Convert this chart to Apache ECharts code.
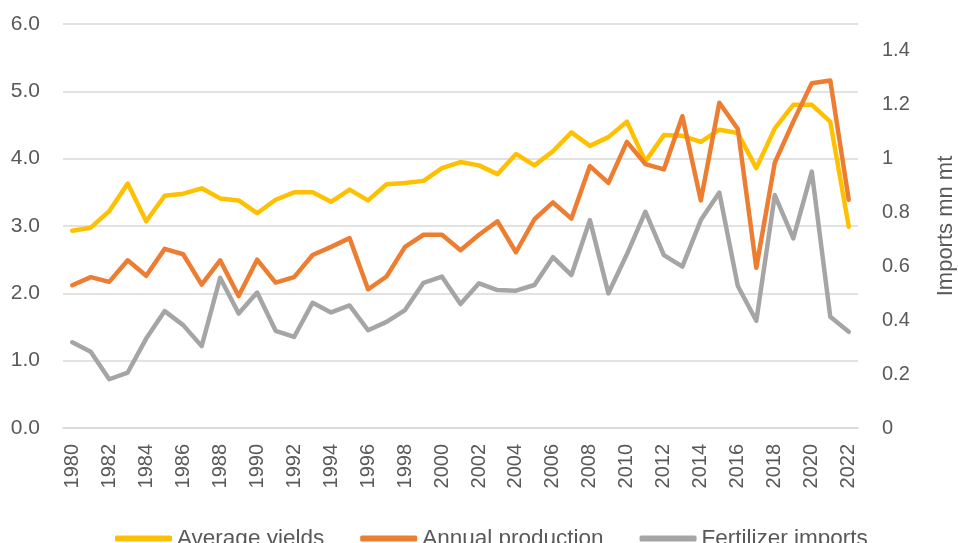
<!DOCTYPE html>
<html style="height: 100%">
<head>
<meta charset="utf-8">
<script src="https://cdn.jsdelivr.net/npm/echarts@6/dist/echarts.min.js"></script>
</head>
<body style="height: 100%; margin: 0; background: #fff">
<div id="container" style="width: 958px; height: 543px"></div>
<script>
// years on the x axis
var years = [];
for (var y = 1980; y <= 2022; y++) years.push(String(y));

// t/ha
var avgYields = [2.93, 2.975, 3.22, 3.63, 3.07, 3.45, 3.48, 3.56, 3.41, 3.38,
  3.19, 3.39, 3.50, 3.50, 3.36, 3.54, 3.38, 3.62, 3.64, 3.67,
  3.86, 3.95, 3.90, 3.77, 4.07, 3.90, 4.11, 4.39, 4.19, 4.32,
  4.55, 3.96, 4.35, 4.34, 4.25, 4.43, 4.38, 3.86, 4.45, 4.80,
  4.80, 4.55, 2.99];

// mn mt
var annualProduction = [2.12, 2.24, 2.17, 2.49, 2.26, 2.66, 2.58, 2.13, 2.49, 1.96,
  2.50, 2.16, 2.24, 2.57, 2.69, 2.82, 2.06, 2.25, 2.69, 2.87,
  2.87, 2.64, 2.87, 3.07, 2.61, 3.10, 3.35, 3.11, 3.89, 3.64,
  4.25, 3.92, 3.84, 4.63, 3.38, 4.83, 4.44, 2.38, 3.94, 4.55,
  5.12, 5.16, 3.39];

// right axis, mn mt
var fertilizerImports = [0.318, 0.283, 0.181, 0.206, 0.332, 0.434, 0.382, 0.304, 0.558, 0.425,
  0.503, 0.361, 0.338, 0.465, 0.429, 0.455, 0.363, 0.394, 0.438, 0.539,
  0.562, 0.460, 0.537, 0.512, 0.510, 0.531, 0.634, 0.568, 0.772, 0.500,
  0.645, 0.803, 0.642, 0.599, 0.772, 0.874, 0.527, 0.398, 0.865, 0.704,
  0.952, 0.413, 0.357];

var seriesNames = ['Average yields', 'Annual production', 'Fertilizer imports'];

var dom = document.getElementById('container');
var myChart = echarts.init(dom);

var labelColor = '#595959';
var font = 'Liberation Sans';

var option = {
    backgroundColor: '#ffffff',
    animation: false,
    color: ['#FFC000', '#ED7D31', '#A5A5A5'],
    grid: {
        left: 63,
        right: 100,
        top: 24,
        bottom: 115,
        containLabel: false,
        outerBoundsMode: 'none'
    },
    legend: {
        data: seriesNames,
        left: 110,
        top: 522,
        itemWidth: 57,
        itemHeight: 6,
        itemGap: 36,
        icon: 'roundRect',
        textStyle: {
            color: labelColor,
            fontSize: 22.5,
            fontFamily: font
        }
    },
    xAxis: {
        type: 'category',
        data: years,
        boundaryGap: true,
        axisLine: { show: true, lineStyle: { color: '#D9D9D9', width: 1.5 } },
        axisTick: { show: false },
        axisLabel: {
            interval: 1,
            rotate: 90,
            margin: 16,
            color: labelColor,
            fontSize: 20,
            fontFamily: font
        }
    },
    yAxis: [
        {
            type: 'value',
            min: 0,
            max: 6,
            interval: 1,
            axisLine: { show: false },
            axisTick: { show: false },
            splitLine: { lineStyle: { color: '#D9D9D9', width: 1.5 } },
            axisLabel: {
                margin: 23,
                color: labelColor,
                fontSize: 21,
                fontFamily: font,
                formatter: function (v) { return v.toFixed(1); }
            }
        },
        {
            type: 'value',
            position: 'right',
            min: 0,
            max: 1.5,
            interval: 0.2,
            name: 'Imports mn mt',
            nameLocation: 'middle',
            nameRotate: 90,
            nameGap: 77,
            nameTextStyle: {
                color: labelColor,
                fontSize: 22,
                fontFamily: font
            },
            axisLine: { show: false },
            axisTick: { show: false },
            splitLine: { show: false },
            axisLabel: {
                margin: 24,
                color: labelColor,
                fontSize: 20,
                fontFamily: font,
                formatter: function (v) {
                    if (v > 1.45) return '';
                    return String(parseFloat(v.toFixed(1)));
                }
            }
        }
    ],
    series: [
        {
            name: seriesNames[0],
            type: 'line',
            data: avgYields,
            yAxisIndex: 0,
            symbol: 'none',
            lineStyle: { width: 4.5, cap: 'round', join: 'round' }
        },
        {
            name: seriesNames[1],
            type: 'line',
            data: annualProduction,
            yAxisIndex: 0,
            symbol: 'none',
            lineStyle: { width: 4.5, cap: 'round', join: 'round' }
        },
        {
            name: seriesNames[2],
            type: 'line',
            data: fertilizerImports,
            yAxisIndex: 1,
            symbol: 'none',
            lineStyle: { width: 4.5, cap: 'round', join: 'round' }
        }
    ]
};

myChart.setOption(option);
</script>
</body>
</html>
